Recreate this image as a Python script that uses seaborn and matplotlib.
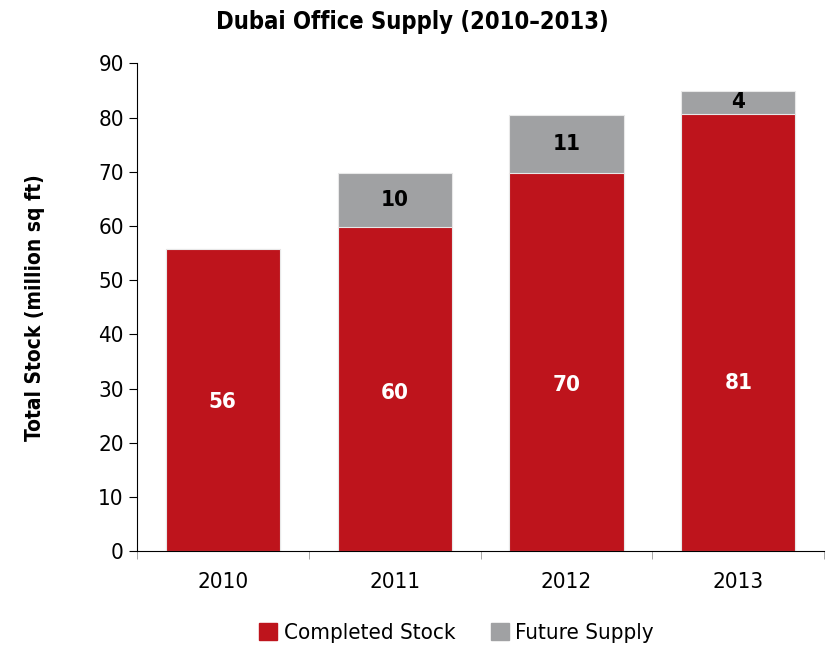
import matplotlib
matplotlib.use("Agg")
import matplotlib.pyplot as plt
import pandas as pd
import numpy as np
import seaborn as sns
from matplotlib.patches import Patch

years = ["2010", "2011", "2012", "2013"]
completed = [55.7, 59.8, 69.7, 80.6]
future = [0, 9.9, 10.8, 4.4]
completed_labels = ["56", "60", "70", "81"]
future_labels = ["", "10", "11", "4"]

# where the white labels sit inside the red bars (as in the original)
label_y = [27.5, 29.2, 30.6, 31.0]

red = "#BE141C"
grey = "#A0A1A3"

sns.set_style("white")
plt.rcParams['font.family'] = ['Liberation Sans Narrow', 'DejaVu Sans']
plt.rcParams['font.stretch'] = 'condensed'
plt.rcParams['text.color'] = 'black'
plt.rcParams['axes.labelcolor'] = 'black'
plt.rcParams['xtick.color'] = 'black'
plt.rcParams['ytick.color'] = 'black'

df = pd.DataFrame({"Year": years, "Completed": completed, "Future": future})
df["Total"] = df["Completed"] + df["Future"]

fig, ax = plt.subplots(figsize=(8.3, 6.47), dpi=100)
fig.subplots_adjust(left=0.165, right=0.993, top=0.902, bottom=0.148)

sns.barplot(data=df, x="Year", y="Total", color=grey, saturation=1, width=0.665,
            edgecolor="#e8e8e8", linewidth=0.8, ax=ax)
sns.barplot(data=df, x="Year", y="Completed", color=red, saturation=1, width=0.665,
            edgecolor="#e8e8e8", linewidth=0.8, ax=ax)

for i in range(len(years)):
    ax.text(i, label_y[i], completed_labels[i], ha="center", va="center",
            color="white", fontsize=16, fontweight="bold")
    if future[i] > 0:
        ax.text(i, completed[i] + future[i] / 2, future_labels[i], ha="center", va="center",
                color="black", fontsize=16, fontweight="bold")

ax.set_xlim(-0.5, 3.5)
ax.set_ylim(0, 90)
ax.set_yticks(np.arange(0, 91, 10))
ax.set_xticks(np.arange(-0.5, 4, 1), minor=True)
ax.tick_params(axis="x", which="major", length=0, labelsize=16, pad=15)
ax.tick_params(axis="x", which="minor", length=6, direction="out", color="#999999", bottom=True)
ax.tick_params(axis="y", length=6, direction="out", labelsize=16, left=True, color="black")

sns.despine(ax=ax)
ax.spines["left"].set_color("black")
ax.spines["bottom"].set_color("black")
ax.set_xlabel("")
ax.set_ylabel("Total Stock (million sq ft)", fontsize=15, fontweight="bold", labelpad=38)
fig.suptitle("Dubai Office Supply (2010\u20132013)", fontsize=17, fontweight="bold",
             x=0.497, y=0.985)

handles = [Patch(color=red, label="Completed Stock"), Patch(color=grey, label="Future Supply")]
fig.legend(handles=handles, loc="lower center", ncol=2, frameon=False, fontsize=16,
           handlelength=0.8, handleheight=0.8, handletextpad=0.3, columnspacing=1.6,
           bbox_to_anchor=(0.55, -0.025))

plt.savefig("out.png", dpi=100)
